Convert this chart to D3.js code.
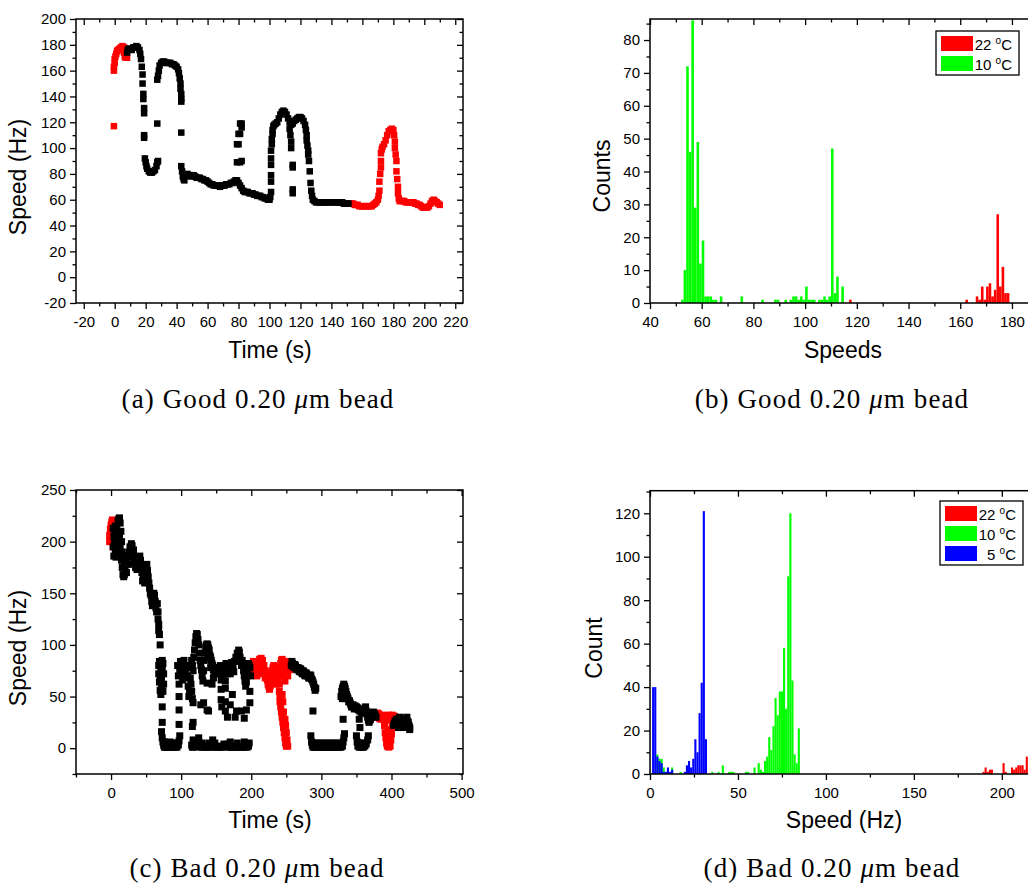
<!DOCTYPE html>
<html><head><meta charset="utf-8">
<script src="https://cdn.jsdelivr.net/npm/d3@7"></script>
<style>body{margin:0;background:#fff}svg{display:block}</style>
</head><body>
<svg id="chart" width="1028" height="884"></svg>
<script>
// ---------------- DATA ----------------
// (a) Good bead: speed vs time, [time s, speed Hz]
const aRed22 = [[-0.5,117],[-0.5,160],[-0.5,163],[0,166],[0,169],[0.5,171],[1,173],[1.5,175],[2,176],[3,177],[4,178],[5,179],[6,178],[6,174],[6.5,171],[7,170],[8,170],
[152,57],[153,57],[154,57],[155,56],[156,56],[157,56],[158,55],[159,55],[160,55],[161,55],[162,55],[163,55],[164,55],[165,55],[166,55],[167,56],[168,57],[169,58],[170,60],[170.5,63],[171,67],[171,74],[171.5,80],[172,85],[172,90],[172,96],[172.5,99],[173,101],[174,103],[175,106],[176,110],[177,113],[178,114],[179,115],[180,114],[180.5,110],[181,105],[181,100],[181.5,95],[182,90],[182,82],[182.5,76],[183,70],[183,65],[183.5,61],[184,59],[185,59],[186,59],[187,59],[188,58],[189,58],[190,58],[191,58],[192,58],[193,58],[194,57],[195,57],[196,56],[197,56],[198,55],[199,54],[200,54],[201,54],[202,54],[203,55],[204,57],[205,59],[206,60],[207,59],[208,58],[209,57],[210,56]];
const aBlack = [[8,174],[8.5,176],[9,177],[10,177],[11,176],[12,178],[13,178],[14,179],[15,178],[16,176],[16.5,173],[17,169],[17.5,163],[18,157],[18,150],
[18.5,142],[18.5,138],[19,131],[19,127],[19,110],[19,108],
[19.5,92],[20,89],[20.5,86],[21,84],[22,82],[23,81],[24,81],[25,82],[26,83],[27,86],[27.5,89],[28,90],
[27.5,119],[27.5,153],[28,156],
[28.5,160],[29,164],[30,166],[31,167],[32,167],[33,166],[34,166],[35,166],[36,166],[37,165],[38,165],[39,164],[40,163],[41,161],[41.5,158],[42,154],[42.5,150],[42.5,146],[43,142],[43,138],[43,136],
[43,112],
[43,86],[43.5,82],[44,78],[44.5,76],[45,75],[46,78],[47,80],[48,79],[49,79],[50,78],[51,79],[52,78],[53,77],[54,77],[55,77],[56,76],[57,76],[58,75],[59,75],[60,74],[61,73],[62,72],[63,72],[64,71],[65,71],[66,71],[67,71],[68,70],[69,71],[70,71],[71,71],[72,72],[73,72],[74,72],[75,73],[76,73],[77,74],[78,75],[79,75],
[79,103],[80,103],[80,111],[81,111],[81,119],[82,119],[82,116],[79,89],[81,89],[82,90],
[80,73],[81,71],[82,69],[83,67],[84,66],[85,66],[86,66],[87,65],[88,65],[89,65],[90,64],[91,64],[92,63],[93,63],[94,63],[95,62],[96,62],[97,61],[98,61],[99,60],[100,60],
[100.5,62],[101,66],[101,74],[101,79],[101,87],[101,92],[101,98],[101.5,103],[101.5,107],[102,111],[102,114],[102.5,117],[103,118],[104,119],[105,120],[106,123],[107,126],[108,128],[109,129],[110,128],[111,126],[112,123],[113,120],[114,118],[115,119],[116,121],[117,122],[118,123],[119,124],[120,124],[121,123],[122,121],[123,118],[123.5,114],[124,110],[124,106],[124.5,102],[125,98],[125,95],[125.5,90],[126,82],[126.5,73],[127,67],[127.5,63],[128,60],[129,59],[130,58],[131,58],[132,58],[133,58],[134,58],[135,58],[136,58],[137,58],[138,58],[139,58],[140,58],
[113,115],[113.5,110],[114,105],[114,100],[115,87],[115,85],[115,68],[115,65],
[142,58],[143,58],[144,58],[145,58],[146,58],[147,58],[148,57],[149,57],[150,57],[151,57]];

// (c) Bad bead: speed vs time
const cRed22 = [[-2,200],[-2,206],[-1,212],[0,216],[0,205],[1,219],[1,210],[2,221],[2,200],[3,214],[3,195],
[200,80],[201,76],[202,78],[203,84],[204,82],[204,72],[205,76],[206,78],[207,74],[208,80],[208,70],[209,78],[210,84],[211,80],[212,86],[212,75],[213,82],[214,87],[215,80],[216,85],[216,72],[217,78],[218,80],[219,74],[220,75],[220,68],[221,72],[222,70],[223,66],[224,62],[225,60],[226,57],[227,60],[228,65],[229,70],[230,75],[231,78],[232,80],[232,70],[233,74],[234,78],[235,75],[236,72],[236,62],[237,66],[238,68],[239,72],[240,75],[240,62],[241,78],[242,82],[243,85],[244,86],[244,70],[245,80],[246,84],[247,78],[248,80],[248,65],[249,74],[250,82],[251,80],[252,84],[252,70],[253,78],[254,80],[255,76],[256,78],
[240,55],[241,50],[241,45],[242,40],[243,35],[244,30],[245,25],[246,20],[247,15],[248,10],[249,5],[250,2],[252,2],[251,8],[250,15],[249,22],[248,28],[246,35],[245,45],[244,52],
[376,32],[377,30],[378,33],[379,31],[380,34],[381,30],[382,33],[383,29],[384,31],[385,28],[386,30],[387,32],[388,31],[389,28],[390,30],[392,29],[394,30],[395,27],[396,32],[397,28],[398,30],[400,28],[401,32],[402,30],[403,26],[404,31],[405,27],[406,28],
[390,22],[391,15],[392,10],[393,5],[394,2],[396,1],[398,2],[399,8],[400,14],[401,20],[395,18],[397,12]];
const cBlack = [[3,213],[3,195],[4,186],[4,205],[5,200],[5,210],[6,215],[6,190],[7,185],[7,205],[8,215],[8,195],[9,186],[9,210],[10,220],[10,200],[11,222],[11,190],[12,223],[12,205],[13,218],[13,195],[14,210],[14,185],[15,200],[15,182],[16,190],[16,175],[17,185],[17,168],[18,175],[18,166],[19,168],[19,180],[20,175],[20,185],
[21,178],[22,170],[23,180],[24,186],[25,178],[26,190],[27,195],[28,186],[29,198],[30,196],[31,188],[32,192],[33,180],[34,185],[35,175],[36,182],[37,173],[38,178],[39,184],[40,180],[41,186],[42,182],[43,175],[44,170],[45,162],[46,168],[47,165],[48,160],[49,170],[50,176],[51,178],[52,172],[53,166],[54,160],[55,155],[56,150],[57,148],[58,142],[59,138],[60,145],[61,150],[62,148],[63,142],[64,136],[65,132],[66,140],[67,132],[67,125],[68,120],[68,114],[69,110],[70,100],
[68,80],[68,72],[69,64],[70,56],[71,52],[72,58],[72,68],[73,78],[73,85],[74,82],[75,72],[75,62],[74,55],[70,66],[71,76],[69,84],[73,40],[73,25],
[72,16],[73,10],[74,6],[75,3],[76,1],[78,1],[80,1],[82,1],[84,1],[86,1],[88,1],[90,1],[92,1],[94,1],[96,3],[97,7],[98,12],[76,6],[80,5],[84,6],[88,5],[92,5],
[97,23],[97,37],[97,50],
[95,80],[96,70],[97,62],[98,75],[99,84],[100,80],[101,72],[102,66],[103,78],[104,85],[105,80],[106,74],[107,68],
[108,80],[109,70],[110,60],[111,50],[112,55],[113,68],[114,78],[115,85],[116,80],[117,75],[118,88],[119,95],[120,102],[121,108],[122,111],[123,110],[124,105],[125,100],[126,92],[127,85],[128,80],[129,76],[130,70],[131,65],[132,75],[115,55],[116,48],[114,62],
[116,21],[117,8],[128,42],[137,63],[137,37],[117,44],[117,25],[132,44],[139,36],
[115,3],[116,1],[118,1],[120,2],[122,4],[125,6],[126,2],[128,1],[130,1],[132,2],[134,1],[136,1],[138,2],[140,1],[142,1],[144,3],[145,8],[148,5],[149,1],[151,1],[153,1],[155,2],[157,1],[159,1],[161,4],[167,4],[168,1],[170,1],[172,1],[174,2],[176,1],[178,1],[180,1],[182,2],[184,1],[186,1],[188,1],[190,2],[192,1],[194,1],[196,2],[197,5],[170,6],[180,5],[190,6],[130,5],[140,5],[125,10],
[133,85],[134,92],[135,98],[136,100],[137,101],[138,100],[139,97],[140,95],[141,90],[142,88],[143,85],[144,82],[145,80],[146,76],[147,72],[148,78],[150,75],[152,72],[154,78],[138,88],[142,78],[146,68],[144,62],
[155,75],[156,80],[158,78],[160,76],[162,80],[164,82],[166,78],[168,76],[170,80],[172,83],[174,80],[176,84],[178,88],[180,92],[182,95],[183,93],[184,88],[185,84],[186,80],[187,85],[188,82],[189,75],[190,70],[191,65],[192,60],[193,64],[194,70],[195,76],[196,82],[197,80],[198,78],[199,70],[160,70],[165,72],[170,72],[175,74],
[157,66],[157,57],[157,47],[158,40],[163,65],[163,58],[163,45],[163,36],[166,30],[170,42],[173,52],[177,30],[179,36],[186,36],[190,29],[193,37],[198,55],[198,44],
[257,80],[258,84],[259,82],[260,79],[261,78],[262,81],[263,80],[264,77],[265,76],[266,78],[267,78],[268,75],[269,74],[270,77],[271,76],[272,73],[273,72],[274,75],[275,74],[276,71],[277,70],[278,73],[279,72],[280,70],[281,70],[282,68],[283,68],[284,71],[285,70],[286,67],[287,66],[288,64],[289,62],[290,59],[291,56],[292,58],
[288,36],
[285,12],[286,6],[287,3],[288,1],[290,1],[292,1],[294,1],[296,1],[298,1],[300,1],[302,1],[304,1],[306,1],[308,1],[310,1],[312,1],[314,1],[316,1],[318,1],[320,1],[322,1],[324,1],[326,1],[328,1],[330,2],[290,5],[295,5],[300,5],[305,5],[310,5],[315,5],[320,5],[325,5],[331,6],[332,10],[333,14],
[331,28],
[328,50],[329,55],[330,58],[331,60],[332,62],[333,60],[334,58],[335,55],[336,52],[337,50],[338,48],[339,45],[340,46],[341,44],[330,48],[334,48],
[342,42],[343,40],[344,40],[345,42],[346,40],[347,38],[348,41],[349,39],[350,40],[351,38],[352,39],[353,37],[354,38],[355,36],[356,36],[357,35],[358,34],
[354,28],[355,20],
[350,12],[351,6],[352,2],[354,1],[356,1],[358,1],[360,1],[362,2],[364,4],[366,8],[367,12],[355,5],[360,5],
[361,35],[362,38],[363,40],[364,36],[365,33],[366,30],[367,27],[368,25],[369,27],[370,28],[371,30],[372,32],[373,34],[374,35],[375,34],[376,33],[377,31],[378,30],
[403,22],[404,24],[405,26],[406,25],[407,28],[408,28],[409,25],[410,26],[411,29],[412,30],[413,27],[414,28],[415,26],[416,25],[417,23],[418,24],[419,22],[420,28],[421,27],[422,30],[423,26],[424,25],[425,22],[426,20],[426,18],[422,22],[418,20],[414,20],[410,20]];

// (b) histogram, bin width 1 Hz: bin left edges and counts
const bGreen10Bins   = [52,53,54,55,56,57,58,59,60,61,62,63,64,65,67,75,83,88,89,92,94,95,96,97,98,99,100,101,102,103,105,106,107,108,109,110,111,112,114];
const bGreen10Counts = [1,10,72,46,86,29,49,12,19,2,2,2,1,1,2,2,1,1,1,1,1,2,2,1,2,1,5,1,1,1,1,1,2,1,2,47,3,8,5];
const bRed22Bins   = [117,162,166,167,168,169,170,171,172,173,174,175,176,177,178];
const bRed22Counts = [1,1,2,1,5,1,5,6,2,4,27,5,11,3,3];

// (d) histogram, bin width 1.2 Hz
const dBlue5Bins   = [1.2,2.4,3.6,4.8,6.0,7.2,8.4,9.6,10.8,12.0,19.2,20.4,21.6,22.8,24.0,25.2,26.4,27.6,28.8,30.0,31.2];
const dBlue5Counts = [40,40,8,6,5,1,1,3,1,2,1,4,6,3,7,16,10,28,42,121,16];
const dGreen10Bins   = [3.6,4.8,6.0,7.2,8.4,12.0,16.8,34.8,38.4,40.8,44.4,45.6,46.8,54.0,55.2,58.8,61.2,62.4,63.6,64.8,66.0,67.2,68.4,69.6,70.8,72.0,73.2,74.4,75.6,76.8,78.0,79.2,80.4,81.6,82.8,84.0];
const dGreen10Counts = [9,7,7,3,1,3,1,1,1,4,1,1,1,1,1,3,5,2,1,6,8,17,11,22,35,27,38,38,58,30,91,120,43,9,5,21];
const dRed22Bins   = [189.0,190.2,191.4,192.6,193.8,200.4,201.6,205.2,206.4,207.6,208.8,210.0,211.2,212.4,213.6];
const dRed22Counts = [1,3,1,2,2,5,1,3,2,3,4,4,4,2,8];

// ticks and labels
const aXTicks = [-20,0,20,40,60,80,100,120,140,160,180,200,220];
const aYTicks = [-20,0,20,40,60,80,100,120,140,160,180,200];
const cXTicks = [0,100,200,300,400,500];
const cYTicks = [0,50,100,150,200,250];
const bXTicks = [40,60,80,100,120,140,160,180];
const bYTicks = [0,10,20,30,40,50,60,70,80];
const dXTicks = [0,50,100,150,200];
const dYTicks = [0,20,40,60,80,100,120];
const legendB = ["22", "10"];
const legendD = ["22", "10", "5"];
const captions = [["a","Good"],["b","Good"],["c","Bad"],["d","Bad"]];

// ---------------- DRAWING ----------------
const SANS = "'Liberation Sans', Arial, sans-serif";
const svg = d3.select('#chart');
const COL = {red:'#ff0000', green:'#00ff00', blue:'#0000ff', black:'#000000'};

function minorsOf(majors, domain){
  const step = majors[1]-majors[0];
  const out = [majors[0]-step/2, ...majors.map(v=>v+step/2)];
  const lo = Math.min(...domain), hi = Math.max(...domain);
  return out.filter(v=>v>=lo-1e-9 && v<=hi+1e-9);
}

function styleAxis(sel){
  sel.select('.domain').remove();
  sel.selectAll('line').attr('stroke','#000').attr('stroke-width',1.3);
  sel.selectAll('text').attr('font-family',SANS).attr('font-size',15).attr('fill','#000');
}

function axes(g, x, y, xt, yt, right){
  const [x0,x1] = x.range(), [yb,ytop] = y.range();
  const xm = minorsOf(xt, x.domain()), ym = minorsOf(yt, y.domain());
  const fmt = d => String(d);
  g.append('g').attr('transform',`translate(0,${yb})`).call(d3.axisBottom(x).tickValues(xt).tickSize(6).tickPadding(7).tickFormat(fmt)).call(styleAxis);
  g.append('g').attr('transform',`translate(0,${yb})`).call(d3.axisBottom(x).tickValues(xm).tickSize(3.5).tickFormat('')).call(styleAxis);
  g.append('g').attr('transform',`translate(0,${ytop})`).call(d3.axisBottom(x).tickValues(xt).tickSize(6).tickFormat('')).call(styleAxis);
  g.append('g').attr('transform',`translate(0,${ytop})`).call(d3.axisBottom(x).tickValues(xm).tickSize(3.5).tickFormat('')).call(styleAxis);
  g.append('g').attr('transform',`translate(${x0},0)`).call(d3.axisLeft(y).tickValues(yt).tickSize(6).tickPadding(4).tickFormat(fmt)).call(styleAxis);
  g.append('g').attr('transform',`translate(${x0},0)`).call(d3.axisLeft(y).tickValues(ym).tickSize(3.5).tickFormat('')).call(styleAxis);
  if (right){
    g.append('g').attr('transform',`translate(${x1},0)`).call(d3.axisLeft(y).tickValues(yt).tickSize(6).tickFormat('')).call(styleAxis);
    g.append('g').attr('transform',`translate(${x1},0)`).call(d3.axisLeft(y).tickValues(ym).tickSize(3.5).tickFormat('')).call(styleAxis);
  }
  g.append('rect').attr('x',x0).attr('y',ytop).attr('width',x1-x0).attr('height',yb-ytop)
    .attr('fill','none').attr('stroke','#000').attr('stroke-width',1.5);
}

function points(g, x, y, pts, color, s){
  g.append('g').selectAll('rect').data(pts).join('rect')
    .attr('x', d=>x(d[0])-s/2).attr('y', d=>y(d[1])-s/2)
    .attr('width', s).attr('height', s).attr('fill', color);
}

function bars(g, x, y, lefts, counts, w, color){
  g.append('g').selectAll('rect').data(lefts.map((l,i)=>[l,counts[i]])).join('rect')
    .attr('x', d=>x(d[0])).attr('width', d=>x(d[0]+w)-x(d[0]))
    .attr('y', d=>y(d[1])).attr('height', d=>y(0)-y(d[1])).attr('fill', color);
}

function xLabel(text, cx, base){
  svg.append('text').attr('x',cx).attr('y',base).attr('text-anchor','middle')
    .attr('font-family',SANS).attr('font-size',23).attr('fill','#000').text(text);
}
function yLabel(text, bx, cy){
  svg.append('text').attr('transform',`translate(${bx},${cy}) rotate(-90)`).attr('text-anchor','middle')
    .attr('font-family',SANS).attr('font-size',23).attr('fill','#000').text(text);
}

function legend(x0, y0, w, rowH, items){
  const g = svg.append('g');
  g.append('rect').attr('x',x0).attr('y',y0).attr('width',w).attr('height',rowH*items.length+4)
    .attr('fill','#fff').attr('stroke','#000').attr('stroke-width',1.3);
  items.forEach((it,i)=>{
    const ry = y0 + 3 + i*rowH;
    g.append('rect').attr('x',x0+5).attr('y',ry+2).attr('width',32).attr('height',rowH-5).attr('fill',it.color);
    const t = g.append('text').attr('x',x0+w-7).attr('y',ry+rowH-4).attr('text-anchor','end')
      .attr('font-family',SANS).attr('font-size',15).attr('fill','#000');
    t.append('tspan').text(it.label+' ');
    t.append('tspan').attr('dy',-6).attr('font-size',10).text('o');
    t.append('tspan').attr('dy',6).text('C');
  });
}

// Panel (a)
{
  const g = svg.append('g');
  const x = d3.scaleLinear().domain([-25,225]).range([76,463]);
  const y = d3.scaleLinear().domain([-20,200]).range([303,19]);
  points(g, x, y, aRed22, COL.red, 6.5);
  points(g, x, y, aBlack, COL.black, 6.5);
  axes(g, x, y, aXTicks, aYTicks, true);
  xLabel('Time (s)', 270, 358);
  yLabel('Speed (Hz)', 26, 177);
}
// Panel (c)
{
  const g = svg.append('g');
  const x = d3.scaleLinear().domain([-50,502]).range([76,463]);
  const y = d3.scaleLinear().domain([-25,250]).range([774,490]);
  points(g, x, y, cRed22, COL.red, 7);
  points(g, x, y, cBlack, COL.black, 7);
  axes(g, x, y, cXTicks, cYTicks, true);
  xLabel('Time (s)', 270, 828);
  yLabel('Speed (Hz)', 26, 648);
}
// Panel (b)
{
  const g = svg.append('g');
  const x = d3.scaleLinear().domain([40,189.3]).range([650,1036]);
  const y = d3.scaleLinear().domain([0,86.4]).range([303,19]);
  bars(g, x, y, bRed22Bins, bRed22Counts, 1, COL.red);
  bars(g, x, y, bGreen10Bins, bGreen10Counts, 1, COL.green);
  axes(g, x, y, bXTicks, bYTicks, false);
  xLabel('Speeds', 843, 358);
  yLabel('Counts', 610, 176);
  legend(936, 31, 83, 20, [{label:legendB[0], color:COL.red},{label:legendB[1], color:COL.green}]);
}
// Panel (d)
{
  const g = svg.append('g');
  const x = d3.scaleLinear().domain([0,220]).range([650,1037]);
  const y = d3.scaleLinear().domain([0,130.4]).range([774,490.7]);
  bars(g, x, y, dRed22Bins, dRed22Counts, 1.2, COL.red);
  bars(g, x, y, dGreen10Bins, dGreen10Counts, 1.2, COL.green);
  bars(g, x, y, dBlue5Bins, dBlue5Counts, 1.2, COL.blue);
  axes(g, x, y, dXTicks, dYTicks, false);
  xLabel('Speed (Hz)', 844, 828);
  yLabel('Count', 602, 648);
  legend(940, 501, 83, 20, [{label:legendD[0], color:COL.red},{label:legendD[1], color:COL.green},{label:' '+legendD[2], color:COL.blue}]);
}

// captions
const capPos = [[258,408],[832,408],[257,877],[832,877]];
captions.forEach((c,i)=>{
  const t = svg.append('text').attr('x',capPos[i][0]).attr('y',capPos[i][1]).attr('text-anchor','middle')
    .attr('font-family',"'Liberation Serif', serif").attr('font-size',27).attr('letter-spacing',1.1).attr('fill','#000');
  t.append('tspan').text(`(${c[0]}) ${c[1]} 0.20 `);
  t.append('tspan').attr('font-style','italic').text('μ');
  t.append('tspan').text('m bead');
});
</script>
</body></html>
